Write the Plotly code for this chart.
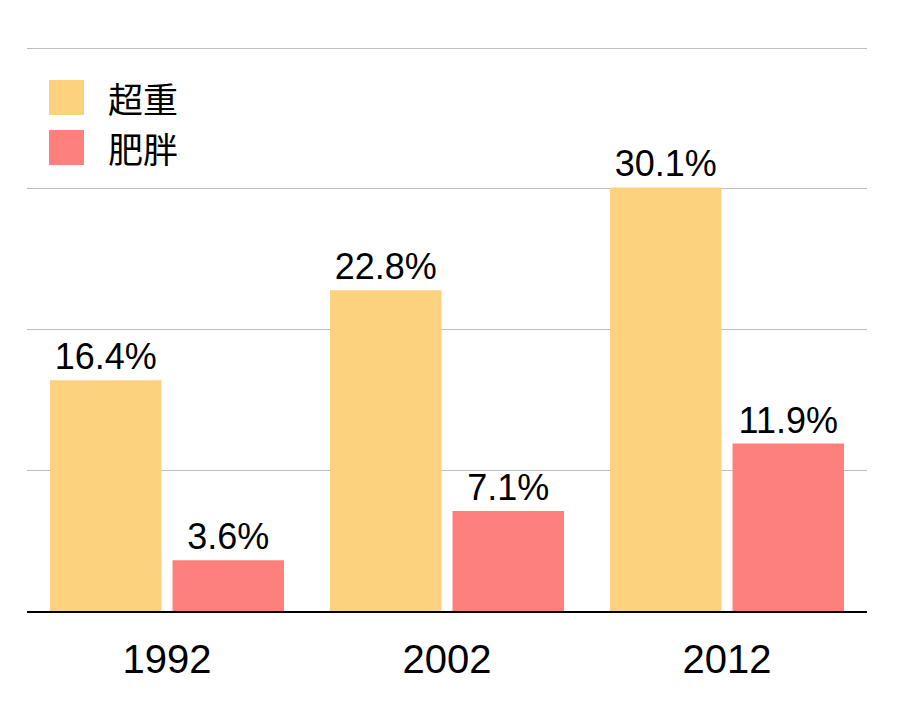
import plotly.graph_objects as go

years = ["1992", "2002", "2012"]
overweight = [16.4, 22.8, 30.1]
obese = [3.6, 7.1, 11.9]
series_names = ["超重", "肥胖"]
colors = ["#FCD27F", "#FE807C"]

fig = go.Figure()
for name, vals, col in zip(series_names, [overweight, obese], colors):
    fig.add_trace(go.Bar(
        x=years, y=vals, name=name, marker=dict(color=col, line=dict(width=0)),
        text=[f"{v:.1f}%" for v in vals], textposition="outside",
        textfont=dict(family="Liberation Sans, Arial", size=36, color="black"),
        cliponaxis=False, showlegend=False,
    ))

fig.update_layout(
    width=904, height=708,
    margin=dict(l=27, r=37, t=46, b=97),
    paper_bgcolor="white", plot_bgcolor="white",
    barmode="group", bargap=0.125, bargroupgap=0.09,
    xaxis=dict(showline=True, linecolor="black", linewidth=2, ticks="",
               tickfont=dict(family="Liberation Sans, Arial", size=40, color="black"),
               ticklabelstandoff=12, showgrid=False),
    yaxis=dict(range=[0, 40.15], tickvals=[10, 20, 30, 40], showgrid=True,
               gridcolor="#BDBDBD", gridwidth=1,
               showticklabels=False, zeroline=False, ticks=""),
)

# Legend drawn manually (large swatches)
H = 708 - 46 - 97
W = 904 - 27 - 37
def px(x):
    return (x - 27) / W
def py(y):
    return (611 - y) / H

legend_rows = [(80, 115), (130, 165)]
for (y0, y1), name, col in zip(legend_rows, series_names, colors):
    fig.add_shape(type="rect", xref="paper", yref="paper",
                  x0=px(49), x1=px(84), y0=py(y1), y1=py(y0),
                  fillcolor=col, line=dict(width=0))
    fig.add_annotation(xref="paper", yref="paper", x=px(106), y=py((y0 + y1) / 2),
                       text=name, showarrow=False, xanchor="left", yanchor="middle",
                       font=dict(family="Noto Sans CJK SC", size=35, color="black"))

fig.write_html("out.html")
